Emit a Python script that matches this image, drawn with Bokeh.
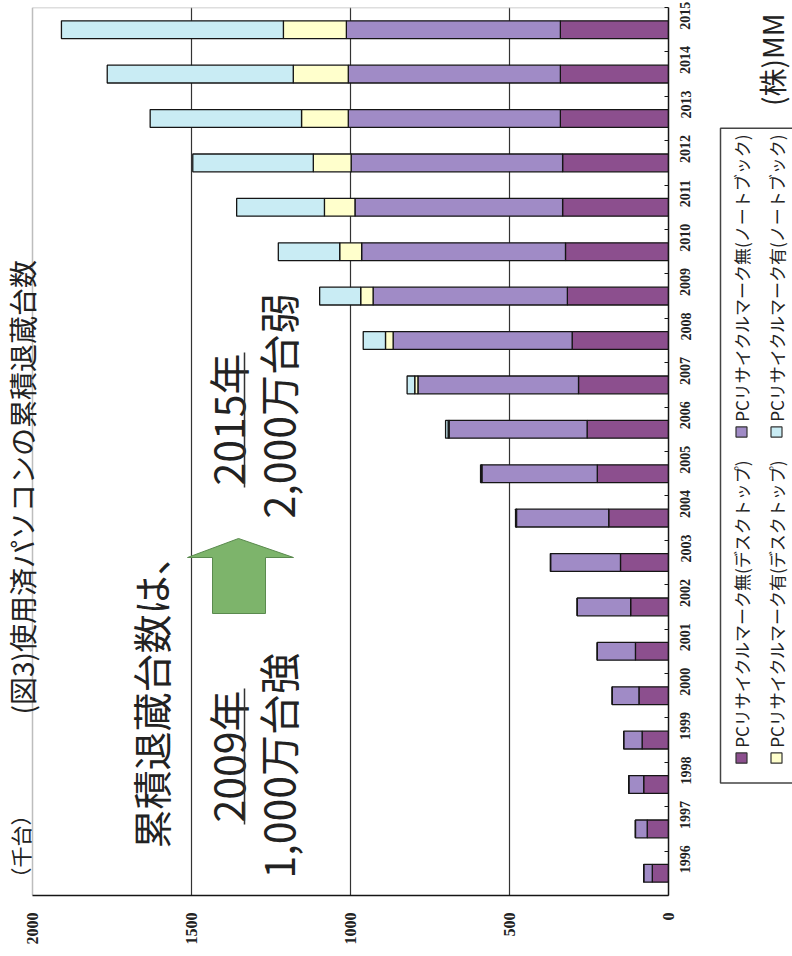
import math
from bokeh.plotting import figure
from bokeh.models import ColumnDataSource, Range1d, FixedTicker
from bokeh.layouts import row
from bokeh.embed import file_html
from bokeh.resources import INLINE
from bokeh.core.properties import value

# ---------------- data (thousand units) ----------------
years = [1996, 1997, 1998, 1999, 2000, 2001, 2002, 2003, 2004, 2005,
         2006, 2007, 2008, 2009, 2010, 2011, 2012, 2013, 2014, 2015]
desk_nomark = [51, 67, 78, 83, 93, 104, 119, 151, 188, 224,
               256, 283, 303, 318, 324, 333, 333, 340, 340, 340]
note_nomark = [27, 37, 47, 58, 84, 120, 168, 220, 290, 363,
               434, 505, 563, 611, 641, 653, 665, 667, 667, 673]
desk_mark = [0, 0, 0, 0, 0, 0, 0, 0, 1, 1,
             3, 10, 24, 39, 69, 96, 119, 147, 173, 198]
note_mark = [0, 0, 0, 0, 0, 0, 0, 0, 2, 3,
             8, 24, 70, 129, 193, 276, 379, 476, 585, 698]
series_names = ["PCリサイクルマーク無(デスクトップ)",
                "PCリサイクルマーク無(ノートブック)",
                "PCリサイクルマーク有(デスクトップ)",
                "PCリサイクルマーク有(ノートブック)"]
value_ticks = [0, 500, 1000, 1500, 2000]
grid_ticks = [500, 1000, 1500]
value_max = 2000

title_text = "(図3)使用済パソコンの累積退蔵台数"
unit_text = "（千台）"
source_text = "(株)MM"
note_lines = ["累積退蔵台数は、", "2009年", "1,000万台強", "2015年", "2,000万台弱"]

colors = ["#8c4f8e", "#a08bc6", "#ffffcc", "#c9ecf4"]
FONT_JP = "Noto Sans CJK JP"
FONT_NUM = "Liberation Sans Narrow"
TXT = "#222222"

# ---------------- geometry helpers (canvas px -> data) ----------------
FR_L, FR_R, FR_T, FR_B = 32, 668, 7, 895   # plot-area box in canvas pixels


def vx(px):
    return (FR_R - px) / (FR_R - FR_L) * value_max


def yy(py):
    return (years[-1] + 0.5) - (py - FR_T) / (FR_B - FR_T) * len(years)


# ---------------- main chart ----------------
src = ColumnDataSource(dict(year=years, dn=desk_nomark, nn=note_nomark,
                            dm=desk_mark, nm=note_mark))

main = figure(width=712, height=956, output_backend="svg", toolbar_location=None,
              title=None, x_range=Range1d(vx(0), 0),
              y_range=Range1d(years[0] - 0.5, years[-1] + 0.5),
              y_axis_location="right", min_border_left=0, min_border_right=44,
              min_border_top=7, min_border_bottom=61)
main.background_fill_color = "white"
main.border_fill_color = "white"
main.outline_line_color = None

# light frame (top and left edges of the plot area)
main.segment(x0=[value_max, value_max], y0=[years[0] - 0.5, years[-1] + 0.5],
             x1=[value_max, 0], y1=[years[-1] + 0.5, years[-1] + 0.5],
             line_color="#bdbdbd", line_width=1.5)

main.xgrid.ticker = FixedTicker(ticks=grid_ticks)
main.xgrid.grid_line_color = "#333333"
main.xgrid.grid_line_width = 1.2
main.ygrid.visible = False

main.hbar_stack(["dn", "nn", "dm", "nm"], y="year", height=0.4, color=colors,
                line_color="#151515", line_width=1.3, source=src)

xa = main.xaxis[0]
xa.ticker = FixedTicker(ticks=value_ticks)
xa.bounds = (0, value_max)
xa.major_label_orientation = math.pi / 2
xa.major_tick_in = 0
xa.major_tick_out = 0
xa.minor_tick_in = 0
xa.minor_tick_out = 0
xa.axis_line_color = "#151515"
xa.axis_line_width = 1.5
xa.major_label_standoff = 17
xa.major_label_text_font = FONT_NUM
xa.major_label_text_font_size = "16px"
xa.major_label_text_font_style = "bold"
xa.major_label_text_color = TXT

ya = main.yaxis[0]
ya.ticker = FixedTicker(ticks=years, minor_ticks=[y - 0.5 for y in years] + [years[-1] + 0.5])
ya.major_label_orientation = math.pi / 2
ya.major_tick_in = 0
ya.major_tick_out = 0
ya.minor_tick_in = 4
ya.minor_tick_out = 0
ya.minor_tick_line_color = "#151515"
ya.axis_line_color = "#151515"
ya.axis_line_width = 1.5
ya.major_label_standoff = 17
ya.major_label_text_font = FONT_NUM
ya.major_label_text_font_size = "14px"
ya.major_label_text_font_style = "bold"
ya.major_label_text_color = TXT

# green arrow
ax_px = [238, 293, 265, 265, 212, 212, 187]
ay_px = [538, 557, 557, 613, 613, 557, 557]
main.patch([vx(p) for p in ax_px], [yy(p) for p in ay_px],
           fill_color="#7db46b", line_color="#5a8a4e", line_width=1)

# annotation texts
main.text(x=[vx(149)], y=[yy(848)], text=[note_lines[0]], angle=math.pi / 2,
          text_font=value(FONT_JP), text_font_size="39px", text_align="left",
          text_baseline="middle", text_color=TXT)
main.text(x=[vx(226), vx(276), vx(226), vx(276)],
          y=[yy(822), yy(878), yy(485), yy(518)],
          text=note_lines[1:], angle=math.pi / 2,
          text_font=value(FONT_JP), text_font_size="41px", text_align="left",
          text_baseline="middle", text_color=TXT)
main.segment(x0=[vx(244), vx(244)], x1=[vx(244), vx(244)],
             y0=[yy(824), yy(487)], y1=[yy(688), yy(352)],
             line_color="#333333", line_width=1.5)

# title and unit in the left margin
main.text(x=[vx(21)], y=[yy(714)], text=[title_text], angle=math.pi / 2,
          text_font=value(FONT_JP), text_font_size="28px", text_align="left",
          text_baseline="middle", text_color=TXT)
main.text(x=[vx(19)], y=[yy(888)], text=[unit_text], angle=math.pi / 2,
          text_font=value(FONT_JP), text_font_size="21px", text_align="left",
          text_baseline="middle", text_color=TXT)

# ---------------- right strip (legend / source) ----------------
side = figure(width=80, height=956, output_backend="svg", toolbar_location=None,
              title=None, x_range=Range1d(712, 792), y_range=Range1d(956, 0),
              x_axis_location=None, y_axis_location=None, min_border=0)
side.outline_line_color = None
side.grid.visible = False

side.multi_line(xs=[[800, 720, 720, 800]], ys=[[130, 130, 835, 835]],
                line_color="#444444", line_width=1.5)
lx = [741, 741, 776, 776]
ly_box = [808, 457, 808, 457]
ly_txt = [797, 446, 797, 446]
leg_order = [0, 1, 2, 3]
side.rect(x=lx, y=ly_box, width=11, height=11,
          fill_color=[colors[i] for i in leg_order], line_color="#333333", line_width=1.2)
side.text(x=lx, y=ly_txt, text=[series_names[i] for i in leg_order], angle=math.pi / 2,
          text_font=value(FONT_JP), text_font_size="17px", text_align="left",
          text_baseline="middle", text_color=TXT)
side.text(x=[771], y=[106], text=[source_text], angle=math.pi / 2,
          text_font=value(FONT_JP), text_font_size="28px", text_align="left",
          text_baseline="middle", text_color=TXT)

layout = row(main, side)
open("out.html", "w").write(file_html(layout, INLINE))
